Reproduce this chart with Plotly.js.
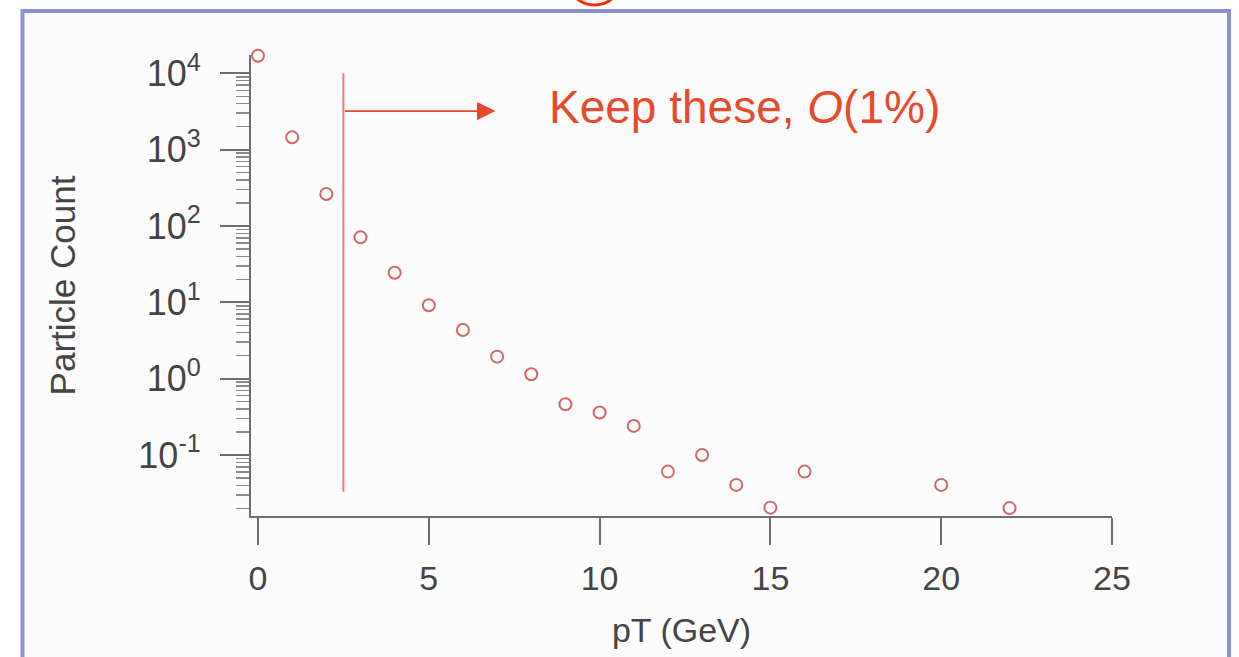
<!DOCTYPE html>
<html>
<head>
<meta charset="utf-8">
<script src="https://cdn.plot.ly/plotly-3.0.1.min.js"></script>
<style>
  html, body { margin: 0; padding: 0; background: #ffffff; }
  #chart { width: 1239px; height: 657px; }
</style>
</head>
<body>
<div id="chart"></div>
<script>
// ---- data ----
const pt = [0, 1, 2, 3, 4, 5, 6, 7, 8, 9, 10, 11, 12, 13, 14, 15, 16, 20, 22];
const particleCount = [17000, 1450, 262, 71, 24.4, 9.15, 4.34, 1.94, 1.14, 0.462, 0.359, 0.240,
                       0.0605, 0.100, 0.0405, 0.0204, 0.0605, 0.0405, 0.0201];

// cut line and "keep" arrow
const cutX = [2.5, 2.5];
const cutY = [0.033, 10000];
const arrowFromX = 2.5;
const arrowToX = 6.95;
const arrowY = 3200;

// axis ticks
const xTickVals = [0, 5, 10, 15, 20, 25];
const yTickVals = [0.1, 1, 10, 100, 1000, 10000];
const yTickText = ['10<sup>-1</sup>', '10<sup>0</sup>', '10<sup>1</sup>', '10<sup>2</sup>', '10<sup>3</sup>', '10<sup>4</sup>'];
const minorDecades = [0.01, 0.1, 1, 10, 100, 1000, 10000];
const minorDigits = [2, 3, 4, 5, 6, 7, 8, 9];

const minorVals = [];
minorDecades.forEach(d => minorDigits.forEach(m => minorVals.push(d * m)));

const FONT = '"Liberation Sans", Arial, Helvetica, sans-serif';
const AXIS_GRAY = '#6e6e6e';
const TEXT_GRAY = '#454545';

const traces = [
  {
    type: 'scatter',
    mode: 'lines',
    x: cutX,
    y: cutY,
    line: { color: '#f07a78', width: 2 },
    hoverinfo: 'skip'
  },
  {
    type: 'scatter',
    mode: 'markers',
    x: pt,
    y: particleCount,
    cliponaxis: false,
    marker: {
      symbol: 'circle-open',
      size: 12,
      color: '#d46666',
      line: { width: 2, color: '#d46666' }
    }
  }
];

// paper-coordinate helpers for decorations (plot area: x 251..1112, y 55..516)
const PL = 251, PR = 1112, PT = 55, PB = 516;
const px = v => (v - PL) / (PR - PL);
const py = v => (PB - v) / (PB - PT);

const layout = {
  width: 1239,
  height: 657,
  autosize: false,
  margin: { l: PL, r: 1239 - PR, t: PT, b: 657 - PB, pad: 0 },
  paper_bgcolor: '#ffffff',
  plot_bgcolor: 'rgba(0,0,0,0)',
  showlegend: false,
  font: { family: FONT, color: TEXT_GRAY },
  xaxis: {
    range: [-0.205, 25],
    tickmode: 'array',
    tickvals: xTickVals,
    ticks: 'outside',
    ticklen: 27,
    tickwidth: 2,
    tickcolor: AXIS_GRAY,
    showline: true,
    linecolor: AXIS_GRAY,
    linewidth: 2,
    showgrid: false,
    zeroline: false,
    tickfont: { family: FONT, size: 34, color: TEXT_GRAY },
    ticklabelstandoff: 4,
    title: { text: 'pT (GeV)', font: { family: FONT, size: 34, color: TEXT_GRAY }, standoff: 22 }
  },
  yaxis: {
    type: 'log',
    range: [-1.80, 4.24],
    tickmode: 'array',
    tickvals: yTickVals,
    ticktext: yTickText,
    ticks: 'outside',
    ticklen: 29,
    tickwidth: 2,
    tickcolor: AXIS_GRAY,
    showline: true,
    linecolor: AXIS_GRAY,
    linewidth: 2,
    showgrid: false,
    zeroline: false,
    tickfont: { family: FONT, size: 36, color: TEXT_GRAY },
    ticklabelstandoff: 12,
    minor: {
      tickmode: 'array',
      tickvals: minorVals,
      ticks: 'outside',
      ticklen: 13,
      tickwidth: 1.5,
      tickcolor: '#8a8a8a',
      showgrid: false
    },
    title: { text: 'Particle Count', font: { family: FONT, size: 35, color: TEXT_GRAY }, standoff: 52 }
  },
  annotations: [
    {
      xref: 'x', yref: 'y', axref: 'x', ayref: 'y',
      x: arrowToX, y: Math.log10(arrowY),
      ax: arrowFromX, ay: Math.log10(arrowY),
      text: '',
      showarrow: true,
      arrowhead: 2,
      arrowsize: 2.3,
      arrowwidth: 1.6,
      arrowcolor: '#e8482a'
    },
    {
      xref: 'x', yref: 'y',
      x: 8.45, y: Math.log10(3600),
      xanchor: 'left', yanchor: 'middle',
      text: 'Keep these, <i>O</i>(1%)',
      showarrow: false,
      font: { family: FONT, size: 46, color: '#e84a2c' }
    }
  ],
  shapes: [
    {
      type: 'rect', xref: 'paper', yref: 'paper', layer: 'below',
      x0: px(22.5), x1: px(1229), y0: py(720), y1: py(11),
      line: { color: '#8d91cf', width: 4 },
      fillcolor: '#fcfcfc'
    },
    {
      type: 'circle', xref: 'paper', yref: 'paper', layer: 'above',
      x0: px(567), x1: px(622), y0: py(5), y1: py(-50),
      line: { color: '#ff2a10', width: 3 },
      fillcolor: 'rgba(0,0,0,0)'
    }
  ]
};

Plotly.newPlot('chart', traces, layout, { displayModeBar: false, staticPlot: true });
</script>
</body>
</html>
